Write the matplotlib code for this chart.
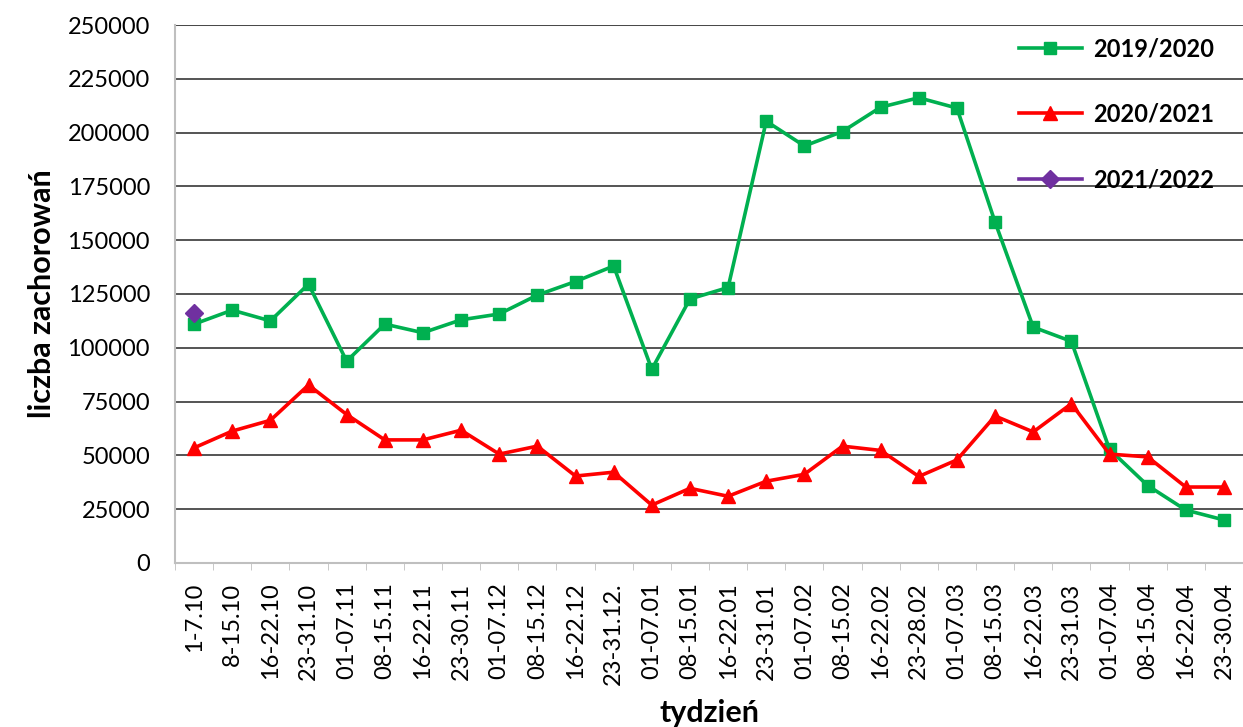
import matplotlib
matplotlib.use("Agg")
import matplotlib.pyplot as plt
import numpy as np

GREEN, RED, PURPLE = "#00B050", "#FF0000", "#7030A0"
plt.rcParams.update({"font.family": ["Lato", "DejaVu Sans"], "font.size": 17})

weeks = ["1-7.10", "8-15.10", "16-22.10", "23-31.10", "01-07.11", "08-15.11",
         "16-22.11", "23-30.11", "01-07.12", "08-15.12", "16-22.12", "23-31.12.",
         "01-07.01", "08-15.01", "16-22.01", "23-31.01", "01-07.02", "08-15.02",
         "16-22.02", "23-28.02", "01-07.03", "08-15.03", "16-22.03", "23-31.03",
         "01-07.04", "08-15.04", "16-22.04", "23-30.04"]

season_2019 = [111000, 117500, 112500, 129600, 93800, 111000, 107000, 113000,
               115700, 124500, 130800, 138000, 90000, 122700, 128000, 205300,
               193800, 200500, 211800, 216200, 211400, 158400, 109600, 103000,
               52800, 36000, 24600, 20000]
season_2020 = [53500, 61300, 66300, 82700, 69000, 57200, 57200, 61700,
               50600, 54300, 40400, 42200, 26900, 34700, 31000, 38000,
               41200, 54300, 52300, 40200, 47900, 68300, 60900, 74000,
               50600, 49300, 35300, 35300]
season_2021 = [116000]

x = np.arange(len(weeks))

fig = plt.figure(figsize=(12.43, 7.27), dpi=100)
ax = fig.add_axes([0.1408, 0.2256, 0.8592, 0.74])

ax.plot(x, season_2019, color=GREEN, lw=2.6, marker="s", ms=8.5, label="2019/2020")
ax.plot(x, season_2020, color=RED, lw=2.6, marker="^", ms=9.5, label="2020/2021")
ax.plot(x[:len(season_2021)], season_2021, color=PURPLE, lw=2.6, marker="D",
        ms=9.5, label="2021/2022")

ax.set_xlim(-0.5, len(weeks) - 0.5)
ax.set_ylim(0, 250000)
ax.set_yticks(np.arange(0, 250001, 25000))
ax.set_xticks(x)
ax.set_xticklabels(weeks, rotation=90)
ax.set_xticks(np.arange(-0.5, len(weeks), 1), minor=True)
ax.tick_params(axis="x", which="major", length=0, pad=14)
ax.tick_params(axis="x", which="minor", length=5, color="#BFBFBF")
ax.tick_params(axis="y", length=0, pad=18)

ax.yaxis.grid(True, color="#262626", lw=1.1)
ax.set_axisbelow(True)
for side in ["top", "right"]:
    ax.spines[side].set_visible(False)
for side in ["left", "bottom"]:
    ax.spines[side].set_color("#BFBFBF")
    ax.spines[side].set_linewidth(1.5)
ax.axhline(250000, color="#BFBFBF", lw=1.5, zorder=0)

ax.set_xlabel("tydzień", fontweight="bold", fontsize=22, labelpad=10)
ax.set_ylabel("liczba zachorowań", fontweight="bold", fontsize=22, labelpad=8)

leg = ax.legend(loc="upper right", bbox_to_anchor=(0.9916, 1.015), frameon=False,
                prop={"weight": "bold", "size": 17}, handlelength=2.7,
                labelspacing=1.8, borderaxespad=0.45, handletextpad=0.45)

fig.savefig("out.png", dpi=100)
